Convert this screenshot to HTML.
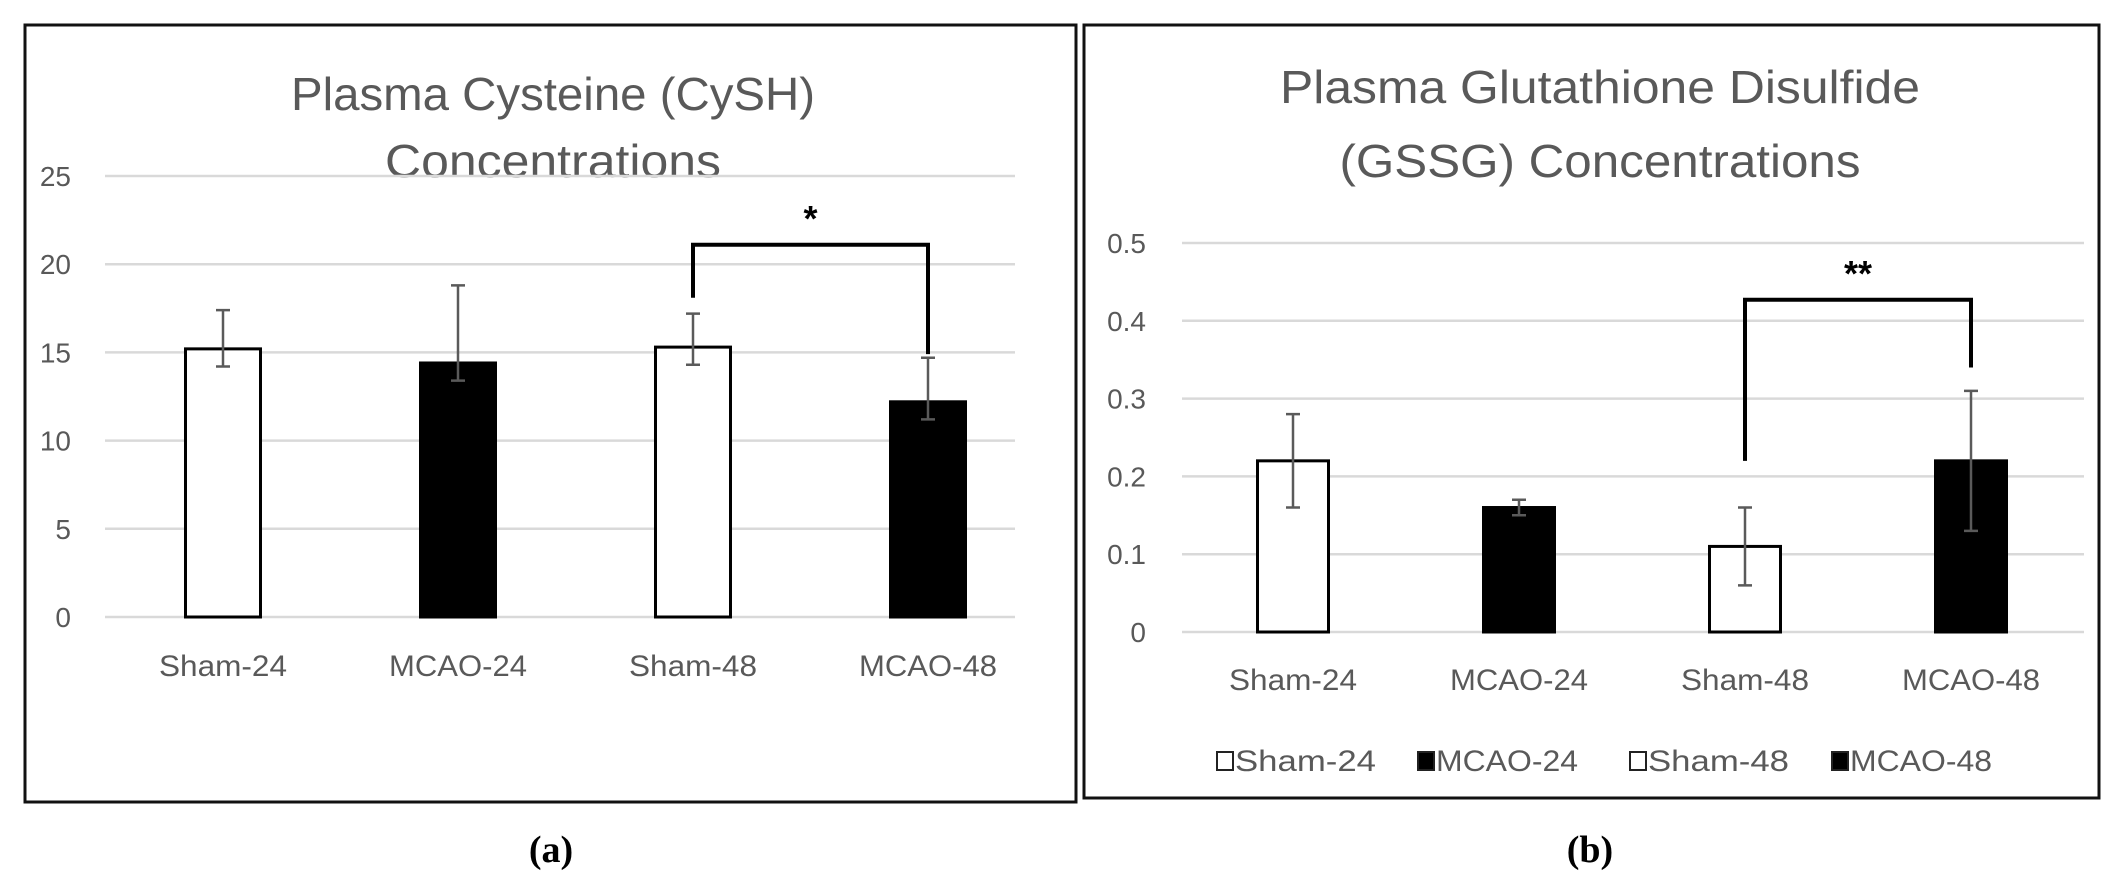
<!DOCTYPE html>
<html><head><meta charset="utf-8">
<style>
html,body{margin:0;padding:0;background:#fff;}
svg{display:block;font-family:"Liberation Sans",sans-serif;}
</style></head>
<body>
<svg id="fig" width="2119" height="886" viewBox="0 0 2119 886" xmlns="http://www.w3.org/2000/svg">
  <rect x="25" y="25" width="1051" height="777" fill="#fff" stroke="#111" stroke-width="3"/>
  <rect x="1084" y="25" width="1015" height="773" fill="#fff" stroke="#111" stroke-width="3"/>
  <g id="chartA"></g>
  <g id="chartB"></g>
  <text x="551" y="862" text-anchor="middle" font-family="Liberation Serif, serif" font-weight="bold" font-size="38" fill="#000">(a)</text>
  <text x="1590" y="862" text-anchor="middle" font-family="Liberation Serif, serif" font-weight="bold" font-size="38" fill="#000">(b)</text>
</svg>
<script>
const categories = ["Sham-24", "MCAO-24", "Sham-48", "MCAO-48"];
const cysValues = [15.2, 14.4, 15.3, 12.2];
const cysErrHigh = [17.4, 18.8, 17.2, 14.7];
const cysErrLow = [14.2, 13.4, 14.3, 11.2];
const cysTicks = [0, 5, 10, 15, 20, 25];
const gssgValues = [0.22, 0.16, 0.11, 0.22];
const gssgErrHigh = [0.28, 0.17, 0.16, 0.31];
const gssgErrLow = [0.16, 0.15, 0.06, 0.13];
const gssgTicks = [0, 0.1, 0.2, 0.3, 0.4, 0.5];
const barFills = ["#fff", "#000", "#fff", "#000"];

const NS = "http://www.w3.org/2000/svg";
function mk(parent, tag, attrs, text) {
  const e = document.createElementNS(NS, tag);
  for (const k in attrs) e.setAttribute(k, attrs[k]);
  if (text !== undefined) e.textContent = text;
  parent.appendChild(e);
  return e;
}

function drawChart(g, cfg) {
  const y = v => cfg.y0 - (v - cfg.vmin) / (cfg.vmax - cfg.vmin) * (cfg.y0 - cfg.y1);
  const x = i => cfg.xc0 + i * cfg.step;
  // title
  cfg.title.forEach((t, i) => {
    const el = mk(g, "text", {x: cfg.titleX, y: cfg.titleY[i], "text-anchor": "middle", "font-size": 46, fill: "#595959", textLength: cfg.titleW[i], lengthAdjust: "spacingAndGlyphs"}, t);
    
    
  });
  // gridlines & ticks
  cfg.ticks.forEach(t => {
    const l = mk(g, "line", {x1: cfg.gx0, x2: cfg.gx1, y1: y(t), y2: y(t), stroke: "#d9d9d9", "stroke-width": 2.5});
    
    
    const tx = mk(g, "text", {x: cfg.tickX, y: y(t) + 10, "text-anchor": "end", "font-size": 28, fill: "#595959"}, String(t));
    
    
  });
  // bars
  categories.forEach((c, i) => {
    const v = cfg.values[i];
    const r = mk(g, "rect", {x: x(i) - cfg.bw / 2, y: y(v), width: cfg.bw, height: y(cfg.vmin) - y(v), fill: barFills[i], stroke: "#000", "stroke-width": 3});
    
    
    const eb = mk(g, "path", {d: `M${x(i)},${y(cfg.hi[i])}V${y(cfg.lo[i])}M${x(i)-7},${y(cfg.hi[i])}H${x(i)+7}M${x(i)-7},${y(cfg.lo[i])}H${x(i)+7}`, stroke: "#5a5a5a", "stroke-width": 2.5, fill: "none"});
    
    
    const lb = mk(g, "text", {x: x(i), y: cfg.labelY, "text-anchor": "middle", "font-size": 30, fill: "#595959", textLength: c.startsWith("Sham") ? 128 : 138, lengthAdjust: "spacingAndGlyphs"}, c);
    
    
  });
  // significance bracket
  const b = cfg.bracket;
  const bp = mk(g, "path", {d: `M${x(b.i)},${y(b.left)}V${y(b.top)}H${x(b.j)}V${y(b.right)}`, stroke: "#000", "stroke-width": 4, fill: "none"});
  
  
  const st = mk(g, "text", {x: (x(b.i) + x(b.j)) / 2, y: y(b.top) - 14, "text-anchor": "middle", "font-size": 36, "font-weight": "bold", fill: "#000"}, b.mark);
  
  
}

drawChart(document.getElementById("chartA"), {
  values: cysValues, hi: cysErrHigh, lo: cysErrLow, ticks: cysTicks, vmin: 0, vmax: 25,
  y0: 617, y1: 176, xc0: 223, step: 235, bw: 75, gx0: 105, gx1: 1015, tickX: 71,
  labelY: 676, title: ["Plasma Cysteine (CySH)", "Concentrations"], titleX: 553, titleY: [110, 177], titleW: [524, 336],
  bracket: {i: 2, j: 3, top: 21.1, left: 18.1, right: 14.9, mark: "*"}
});
drawChart(document.getElementById("chartB"), {
  values: gssgValues, hi: gssgErrHigh, lo: gssgErrLow, ticks: gssgTicks, vmin: 0, vmax: 0.5,
  y0: 632, y1: 243, xc0: 1293, step: 226, bw: 71, gx0: 1182, gx1: 2084, tickX: 1146,
  labelY: 690, title: ["Plasma Glutathione Disulfide", "(GSSG) Concentrations"], titleX: 1600, titleY: [103, 177], titleW: [640, 521],
  bracket: {i: 2, j: 3, top: 0.427, left: 0.22, right: 0.34, mark: "**"}
});

// legend for chart B
const legend = document.getElementById("chartB");
const legX = [1215, 1416, 1628, 1830];
categories.forEach((c, i) => {
  const sq = mk(legend, "rect", {x: legX[i] + 2, y: 752, width: 16, height: 18, fill: barFills[i], stroke: "#222", "stroke-width": 2});
  
  
  const t = mk(legend, "text", {x: legX[i] + 20, y: 771, "font-size": 30, fill: "#595959", textLength: c.startsWith("Sham") ? 141 : 142, lengthAdjust: "spacingAndGlyphs"}, c);
  
  
});
</script>
</body></html>
